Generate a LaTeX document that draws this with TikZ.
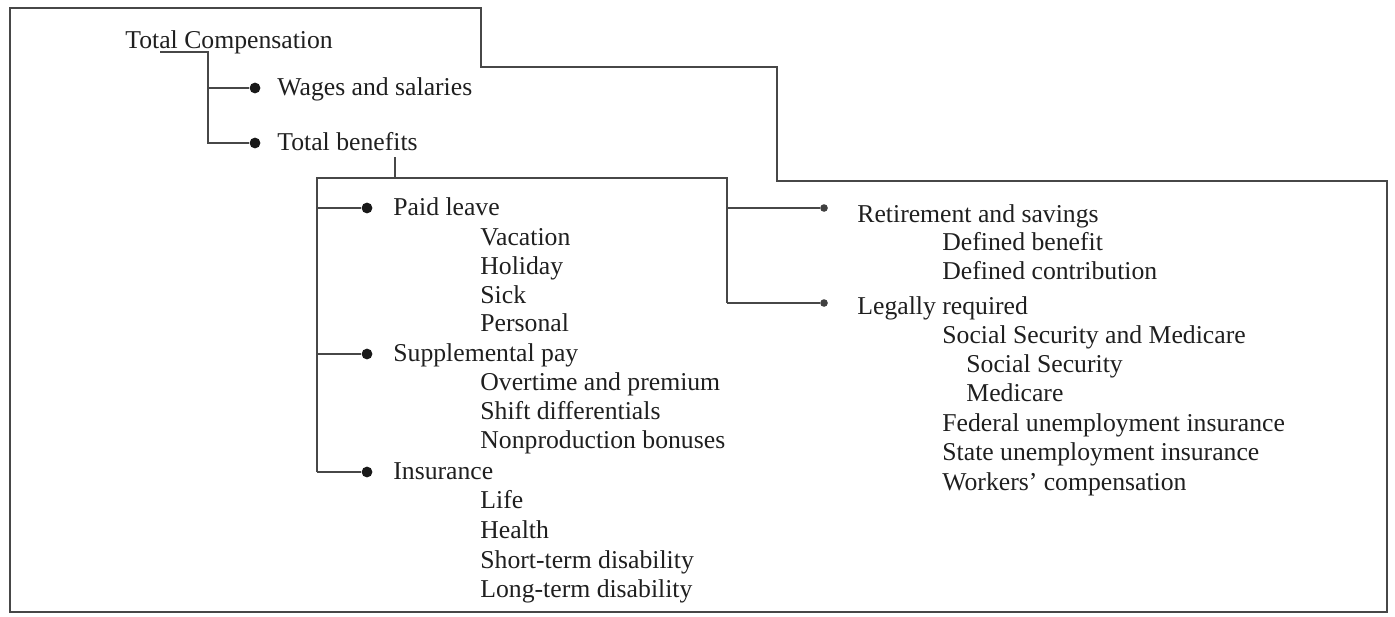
\documentclass[tikz,border=0pt]{standalone}
\usepackage{fontspec}
\setmainfont{Liberation Serif}
\begin{document}
\begin{tikzpicture}[x=0.5pt,y=-0.5pt,
  line/.style={draw=black!72,line width=0.8pt},
  lbl/.style={anchor=west,inner sep=0pt,font=\fontsize{12.85}{15}\selectfont,text height=0.9em,text depth=0.13em,text=black!88},
  dot/.style={circle,fill=black!90,inner sep=0pt,minimum size=5.4pt},
  sdot/.style={circle,fill=black!75,inner sep=0pt,minimum size=3.8pt}]
\useasboundingbox (0,0) rectangle (1395,616);
% outer frame
\draw[line] (10,8) -- (481,8) -- (481,67) -- (777,67) -- (777,181) -- (1387,181) -- (1387,612) -- (10,612) -- cycle;
% top level
\node[lbl] (tc) at (125,41) {Total Compensation};
\node[dot] (bws) at (255,88) {};
\node[dot] (btb) at (255,143) {};
\node[lbl] (ws) at (277,88) {Wages and salaries};
\node[lbl] (tb) at (277,143) {Total benefits};
\coordinate (u0) at (160,52);
\coordinate (u1) at (208,52);
\coordinate (u2) at (208,88);
\coordinate (u3) at (208,143);
\draw[line] (u0) -- (u1) -- (u3) -- (btb);
\draw[line] (u2) -- (bws);
% benefits frame
\coordinate (t0) at (395,157);
\coordinate (t1) at (395,178);
\coordinate (l0) at (317,178);
\coordinate (r0) at (727,178);
\coordinate (l1) at (317,208);
\coordinate (l2) at (317,354);
\coordinate (l3) at (317,472);
\coordinate (r1) at (727,208);
\coordinate (r2) at (727,303);
\draw[line] (t0) -- (t1);
\draw[line] (l3) -- (l0) -- (r0) -- (r2);
\node[dot] (bpl) at (367,208) {};
\node[dot] (bsp) at (367,354) {};
\node[dot] (bin) at (367,472) {};
\node[sdot] (brs) at (824,208) {};
\node[sdot] (blr) at (824,303) {};
\draw[line] (l1) -- (bpl);
\draw[line] (l2) -- (bsp);
\draw[line] (l3) -- (bin);
\draw[line] (r1) -- (brs);
\draw[line] (r2) -- (blr);
% left column
\node[lbl] (pl) at (393,208) {Paid leave};
\node[lbl] (pl1) at (480,238) {Vacation};
\node[lbl] (pl2) at (480,267) {Holiday};
\node[lbl] (pl3) at (480,296) {Sick};
\node[lbl] (pl4) at (480,324) {Personal};
\node[lbl] (sp) at (393,354) {Supplemental pay};
\node[lbl] (sp1) at (480,383) {Overtime and premium};
\node[lbl] (sp2) at (480,412) {Shift differentials};
\node[lbl] (sp3) at (480,441) {Nonproduction bonuses};
\node[lbl] (in) at (393,472) {Insurance};
\node[lbl] (in1) at (480,501) {Life};
\node[lbl] (in2) at (480,531) {Health};
\node[lbl] (in3) at (480,561) {Short-term disability};
\node[lbl] (in4) at (480,590) {Long-term disability};
% right column
\node[lbl] (rs) at (857,215) {Retirement and savings};
\node[lbl] (rs1) at (942,243) {Defined benefit};
\node[lbl] (rs2) at (942,272) {Defined contribution};
\node[lbl] (lr) at (857,307) {Legally required};
\node[lbl] (lr1) at (942,336) {Social Security and Medicare};
\node[lbl] (lr2) at (966,365) {Social Security};
\node[lbl] (lr3) at (966,394) {Medicare};
\node[lbl] (lr4) at (942,424) {Federal unemployment insurance};
\node[lbl] (lr5) at (942,453) {State unemployment insurance};
\node[lbl] (lr6) at (942,483) {Workers’ compensation};
\end{tikzpicture}
\end{document}
